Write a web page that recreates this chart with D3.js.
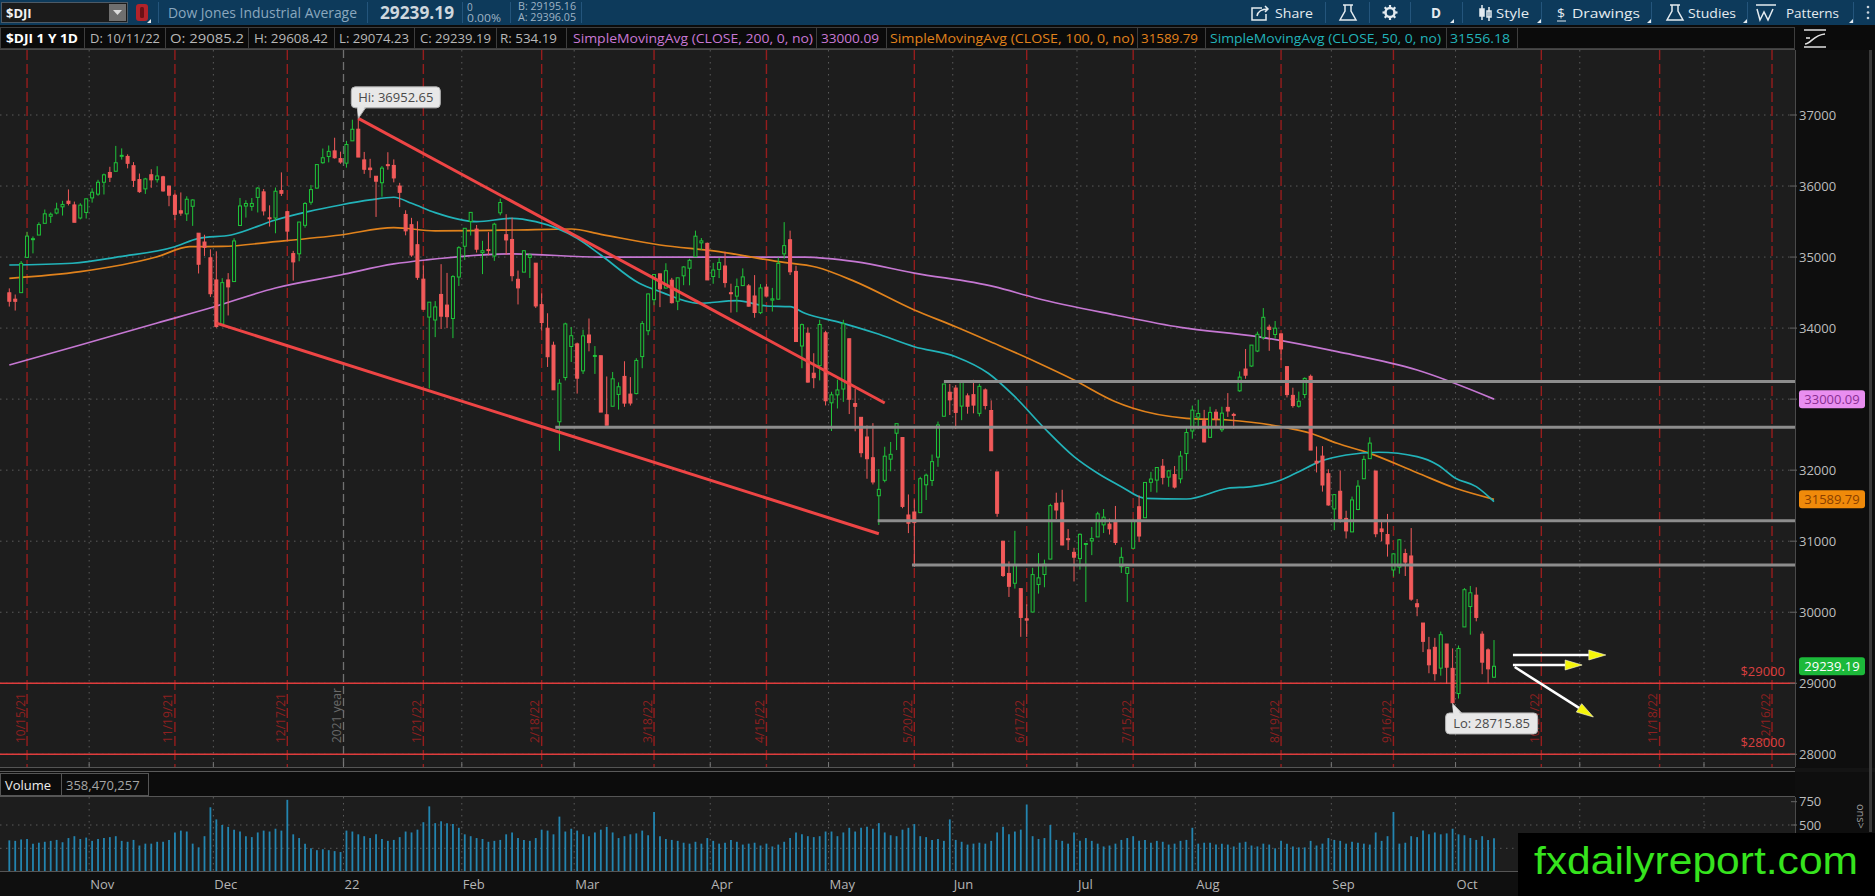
<!DOCTYPE html>
<html>
<head>
<meta charset="utf-8">
<title>$DJI 1 Y 1D</title>
<script src="https://cdn.jsdelivr.net/npm/d3@7"></script>
<style>
  body { margin: 0; background: #0e0e0e; overflow: hidden; }
  svg { display: block; }
  text { font-family: "Open Sans", "Noto Sans", sans-serif; }
</style>
</head>
<body>
<div id="chart-area"></div>
<script>
// Daily candles, trading-day index 0 = 10/12/21 ... 251 = 10/11/22
// [open, high, low, close]
const ohlc = [
  // Oct 21
  [34497,34559,34303,34378],[34407,34473,34247,34377],[34499,34944,34499,34912],[34996,35356,34996,35295],
  [35255,35290,35052,35259],[35310,35489,35310,35457],[35475,35669,35475,35609],[35575,35628,35480,35603],
  [35620,35765,35602,35677],[35707,35792,35584,35741],[35787,35952,35727,35756],[35734,35781,35490,35490],
  [35550,35759,35530,35731],[35628,35820,35542,35820],
  // Nov 21
  [35833,35968,35766,35913],[35886,36088,35863,36053],[36053,36175,35881,36158],[36191,36271,36056,36124],
  [36208,36565,36208,36328],[36428,36530,36372,36432],[36417,36446,36249,36320],[36286,36337,35987,36080],
  [36091,36176,35904,35921],[35960,36115,35889,36100],[36159,36236,35975,36087],[36089,36279,36048,36142],
  [36130,36144,35921,35931],[36000,36002,35716,35871],[35870,35894,35520,35602],[35652,35910,35581,35619],
  [35608,35856,35508,35814],[35715,35813,35439,35804],[35336,35336,34769,34899],[35212,35314,35016,35136],
  [34990,35109,34439,34484],
  // Dec 21
  [34678,35081,34006,34022],[34055,34703,34027,34640],[34678,34774,34178,34580],[34655,35265,34655,35227],
  [35445,35832,35445,35720],[35718,35800,35556,35754],[35713,35831,35652,35755],[35840,35985,35628,35971],
  [35918,35958,35585,35650],[35553,35728,35430,35544],[35550,35979,35335,35927],[35936,36192,35860,35898],
  [35639,35650,35227,35365],[35049,35087,34668,34932],[35046,35495,34941,35493],[35447,35775,35414,35754],
  [35772,36015,35736,35950],[35971,36304,35962,36302],[36328,36528,36314,36398],[36416,36571,36333,36488],
  [36495,36680,36386,36398],[36386,36484,36314,36338],
  // Jan 22
  [36322,36636,36259,36585],[36636,36934,36636,36799],[36800,36952.65,36408,36408],[36368,36480,36171,36236],
  [36253,36383,36115,36231],[36138,36138,35565,36068],[36046,36281,35850,36252],[36301,36476,36230,36290],
  [36290,36375,36052,36114],[36000,36045,35703,35912],[35600,35659,35306,35369],[35456,35552,35004,35029],
  [35174,35504,34680,34715],[34689,34882,34259,34265],[34155,34364,33150,34365],[34114,34380,33873,34298],
  [34474,34900,33987,34168],[34324,34777,33999,34161],[34135,34745,33859,34725],[34719,35153,34593,35132],
  // Feb 22
  [35152,35405,34960,35405],[35500,35631,35303,35629],[35394,35452,35063,35111],[35062,35229,34760,35089],
  [35105,35351,35026,35091],[35015,35483,34946,35463],[35623,35824,35588,35768],[35315,35603,35033,35241],
  [35248,35555,34659,34738],[34687,34810,34333,34566],[34788,35098,34788,35089],[34996,35052,34705,35028],
  [34914,34914,34284,34312],[34330,34489,33967,34079],[33998,34209,33453,33597],[33759,33809,33131,33131],
  [32681,33281,32272,33224],[33304,34076,33263,34059],[33741,34016,33523,33893],
  // Mar 22
  [33778,33796,33078,33295],[33398,33978,33354,33891],[33903,34135,33673,33795],[33614,33747,33355,33615],
  [33611,33611,32817,32818],[32780,33319,32632,32633],[32900,33382,32900,33286],[33066,33236,32853,33174],
  [33320,33533,32892,32944],[33071,33310,32910,32945],[33078,33576,33067,33545],[33599,34099,33435,34063],
  [33963,34486,33900,34481],[34400,34757,34322,34754],[34764,34764,34295,34553],[34564,34913,34557,34808],
  [34674,34707,34346,34358],[34378,34708,34253,34708],[34736,34872,34604,34861],[34843,34976,34602,34955],
  [35005,35372,35005,35294],[35200,35268,35100,35228],[35193,35204,34678,34678],
  // Apr 22
  [34726,34918,34624,34818],[34826,34990,34704,34922],[34874,35075,34571,34641],[34498,34625,34218,34497],
  [34450,34698,34224,34584],[34598,34841,34592,34721],[34594,34620,34303,34309],[34452,34746,34146,34220],
  [34217,34619,34197,34565],[34577,34621,34446,34451],[34394,34566,34233,34412],[34407,34994,34406,34911],
  [35045,35492,34978,35161],[35244,35372,34747,34793],[34798,34878,33811,33811],[33748,34064,33435,34049],
  [33928,34010,33233,33240],[33365,33646,33154,33302],[33471,34117,33263,34051],[33934,33962,32911,32977],
  // May 22
  [32948,33104,32551,33061],[33060,33275,32868,33129],[33142,34117,32961,34061],[33850,33850,32790,32998],
  [32938,33142,32547,32899],[32744,32744,32182,32246],[32467,32629,31879,32161],[32175,32662,31799,31834],
  [31640,32015,31228,31730],[31857,32330,31829,32197],[32155,32397,31984,32223],[32520,32654,32283,32655],
  [32459,32459,31464,31490],[31369,31658,31114,31253],[31411,31587,30636,31262],[31402,31907,31402,31880],
  [31794,31952,31580,31929],[31855,32220,31778,32120],[32183,32684,32047,32637],[32759,33213,32759,33213],
  [33097,33214,32777,32990],
  // Jun 22
  [33156,33198,32579,32813],[32902,33251,32704,33248],[33046,33081,32795,32900],[33063,33272,32800,32916],
  [32800,33216,32757,33180],[33130,33151,32854,32910],[32840,32983,32271,32273],[31975,31975,31344,31393],
  [31000,31000,30496,30517],[30546,30715,30215,30365],[30408,31146,30333,30669],[30332,30332,29654,29927],
  [29908,30112,29653,29889],[30003,30626,30003,30530],[30390,30833,30262,30484],[30531,30740,30351,30677],
  [30748,31527,30748,31501],[31534,31683,31311,31439],[31540,31724,30942,30947],[31035,31170,30876,31029],
  [30843,30907,30433,30775],
  // Jul 22
  [30755,31109,30599,31097],[30962,30962,30144,30968],[31004,31201,30804,31037],[31060,31414,31060,31385],
  [31230,31453,31115,31338],[31241,31317,31094,31174],[31284,31496,30948,30982],[30641,30914,30552,30773],
  [30546,30626,30143,30630],[30900,31316,30900,31289],[31485,31646,30988,31073],[31330,31827,31330,31827],
  [31829,31976,31695,31875],[31860,32037,31685,32037],[32056,32157,31800,31899],[31902,32004,31766,31990],
  [31938,32058,31742,31762],[31878,32269,31815,32198],[32234,32614,31990,32530],[32551,32910,32443,32845],
  // Aug 22
  [32746,32992,32578,32798],[32697,32849,32392,32397],[32462,32893,32457,32813],[32816,32858,32606,32727],
  [32569,32893,32537,32803],[32884,33085,32750,32833],[32785,32808,32583,32775],[33117,33390,33103,33310],
  [33424,33706,33287,33337],[33466,33762,33455,33761],[33677,33950,33662,33913],[33867,34282,33837,34152],
  [34014,34049,33680,33981],[33910,34100,33852,33999],[33919,33919,33549,33707],[33458,33458,33024,33064],
  [33053,33161,32880,32910],[32900,33106,32881,32970],[33065,33306,33013,33292],[33321,33346,32283,32283],
  [32126,32334,31968,32099],[32198,32339,31698,31791],[31950,32013,31500,31510],
  // Sep 22
  [31454,31664,31156,31656],[31703,31996,31263,31318],[31321,31429,31038,31145],[31131,31628,31130,31581],
  [31446,31859,31437,31775],[31879,32205,31879,32152],[32162,32463,32160,32381],[31988,31988,31056,31105],
  [31173,31300,30999,31135],[31094,31384,30783,30962],[30595,30830,30501,30822],[30635,31031,30542,31020],
  [30826,30893,30510,30706],[30792,31185,30161,30184],[30120,30186,29944,30077],[29848,29848,29439,29590],
  [29470,29653,29141,29260],[29506,29639,29035,29135],[29213,29728,29107,29684],[29553,29553,28994,29226],
  [29210,29491,28715.85,28726],
  // Oct 22
  [28855,29531,28785,29490],[29793,30340,29793,30317],[30080,30370,29684,30274],[30240,30351,29872,29927],
  [29691,29731,29128,29297],[29470,29491,28993,29203],[29085.2,29608.42,29074.23,29239.19]
]

// Daily volume, millions
const volumeM = [
  335,330,345,350,300,310,320,330,340,315,360,380,350,365,
  330,350,360,370,380,330,320,340,280,300,300,320,320,340,420,440,430,300,260,380,690,
  560,500,480,450,430,380,370,420,440,430,460,440,770,400,360,300,250,230,240,230,220,210,
  440,430,400,380,360,400,350,330,340,370,430,420,450,530,700,520,540,520,510,470,
  400,380,360,350,320,330,340,400,420,360,340,330,360,450,440,400,590,430,460,
  440,400,380,420,450,480,420,360,380,400,410,440,390,640,380,350,340,330,310,300,320,300,360,
  330,300,310,340,320,290,300,310,280,300,270,290,320,360,420,400,380,370,380,430,
  430,380,420,470,430,470,480,460,520,420,390,380,450,470,510,380,370,340,350,330,560,
  340,320,290,300,310,300,330,420,480,400,430,450,720,380,350,360,500,340,330,300,420,
  330,360,330,300,270,280,300,340,360,380,330,340,310,330,320,290,300,330,340,470,
  300,310,310,290,300,290,270,310,320,280,270,300,290,250,330,300,270,260,260,330,280,300,360,
  340,330,300,320,310,300,290,420,330,380,640,300,310,380,370,440,400,420,400,410,460,
  400,390,360,340,380,340,358.47
]
const lastVolume = 358470257
const lastDate = "10/11/22"

// Moving averages: [trading-day index, value]
const sma200 = [[0,33481],[12,33762],[25,34072],[34.5,34297],[45,34565],[56,34748],[65,34903],[70.5,34960],
  [85,35044],[100,35000],[120,35000],[134.5,35000],[143,34935],[153,34775],[166.5,34583],[173.5,34424],
  [187,34184],[198,34010],[211,33880],[224.5,33668],[238,33410],[251,33000.09]]
const sma100 = [[0,34701],[12,34794],[25,35005],[30.5,35146],[36,35150],[45,35217],[56,35311],[65,35414],
  [72,35370],[85,35381],[95,35395],[100,35320],[110,35170],[120,35076],[130,34935],[136.5,34856],
  [143,34654],[153,34255],[160,34020],[166.5,33786],[173.5,33527],[180,33270],[187,32964],[190,32871],
  [199,32730],[206,32706],[215,32612],[220,32519],[224.5,32378],[230,32237],[238,31964],[244.5,31745],
  [251,31589.79]]
const sma50 = [[0,34888],[10.7,34913],[18.7,35005],[28,35146],[32,35264],[37.5,35311],[45,35522],[50.5,35639],
  [56,35733],[61,35804],[65,35842],[68,35757],[72,35625],[79,35498],[85,35546],[89,35498],[96,35264],
  [100,35029],[106.5,34631],[110,34513],[116.5,34349],[123,34386],[128,34311],[132,34302],[134.5,34209],
  [140.5,34077],[146.5,33927],[153,33738],[160,33597],[165.5,33364],[170,33034],[175,32590],[180,32190],
  [184,31956],[188,31768],[192,31604],[199,31594],[206,31745],[210,31768],[215,31862],[218,31979],
  [221.5,32120],[226,32214],[231.5,32252],[238,32190],[241.5,32073],[244.5,31886],[248,31768],[251,31556.18]]

// Axis / calendar
const priceTicks = [28000,29000,30000,31000,32000,33000,34000,35000,36000,37000]
const volumeTicks = [250, 500]
const volumeLabels = [750, 500]
const monthStarts = [14,35,57,77,96,119,139,160,181,201,224,245,266,287]
const monthLabels = ["Nov","Dec","22","Feb","Mar","Apr","May","Jun","Jul","Aug","Sep","Oct","Nov","Dec"]
const expiryDays = [3,28,47,70,90,109,128,153,172,190,215,234,259,279,298]
const expiryLabels = ["10/15/21","11/19/21","12/17/21","1/21/22","2/18/22","3/18/22","4/15/22","5/20/22",
  "6/17/22","7/15/22","8/19/22","9/16/22","10/21/22","11/18/22","12/16/22"]
const yearBreak = 56.5

// Drawings
const levels = [33250, 32605, 31287, 30665]
const levelStarts = [158, 92.3, 146.8, 152.6]
const roundLevels = [29000, 28000]
const trendUpper = [[59, 36952.65], [148, 32946]]
const trendLower = [[35, 34070], [147, 31105]]
const arrows = [
  [[254.2, 29398], [269.9, 29398]],
  [[254.2, 29257], [265.9, 29257]],
  [[254.5, 29229], [267.8, 28525]]
]

const WIDTH = 1875, HEIGHT = 896
const PLOT = { LEFT: 0, RIGHT: 1795, TOP: 50, BOTTOM: 767 }
const VOL = { TOP: 797, BOTTOM: 871 }
const WATERMARK = { X: 1518, Y: 833 }
const BG = "#1d1d1d"

const x = d3.scaleLinear().domain([0, 251]).range([9.3, 1494])
const y = d3.scaleLinear().domain([28000, 37000]).range([754.3, 115])
const yVol = d3.scaleLinear().domain([0, 750]).range([871.6, 801.7])

const svg = d3.select("#chart-area").append("svg")
  .attr("width", WIDTH)
  .attr("height", HEIGHT)

svg.append("rect").attr("width", WIDTH).attr("height", HEIGHT).attr("fill", "#0e0e0e")
svg.append("rect").attr("x", PLOT.LEFT).attr("y", PLOT.TOP)
  .attr("width", PLOT.RIGHT - PLOT.LEFT).attr("height", PLOT.BOTTOM - PLOT.TOP).attr("fill", BG)
svg.append("rect").attr("x", 0).attr("y", VOL.TOP)
  .attr("width", PLOT.RIGHT).attr("height", VOL.BOTTOM - VOL.TOP).attr("fill", BG)

const defs = svg.append("defs")
defs.append("clipPath").attr("id", "plot-clip").append("rect")
  .attr("x", PLOT.LEFT).attr("y", PLOT.TOP)
  .attr("width", PLOT.RIGHT - PLOT.LEFT).attr("height", PLOT.BOTTOM - PLOT.TOP)
defs.append("clipPath").attr("id", "vol-clip").append("rect")
  .attr("x", 0).attr("y", VOL.TOP).attr("width", PLOT.RIGHT).attr("height", VOL.BOTTOM - VOL.TOP)

const g = svg.append("g").attr("clip-path", "url(#plot-clip)")

// Grid
g.selectAll(".hgrid").data(priceTicks).enter().append("line")
  .attr("x1", 0).attr("x2", PLOT.RIGHT - 4)
  .attr("y1", d => y(d)).attr("y2", d => y(d))
  .attr("stroke", "#5a5a5a").attr("stroke-dasharray", "1.5,4.5")
g.selectAll(".vgrid").data(monthStarts).enter().append("line")
  .attr("x1", d => x(d - 0.5)).attr("x2", d => x(d - 0.5))
  .attr("y1", PLOT.TOP).attr("y2", PLOT.BOTTOM)
  .attr("stroke", "#5a5a5a").attr("stroke-dasharray", "1.5,4.5")

// Option expiry lines
g.selectAll(".expiry").data(expiryDays).enter().append("line")
  .attr("x1", d => x(d)).attr("x2", d => x(d))
  .attr("y1", PLOT.TOP).attr("y2", PLOT.BOTTOM)
  .attr("stroke", "#961d1d").attr("stroke-width", 1.4).attr("stroke-dasharray", "10,4")
g.selectAll(".expiry-label").data(expiryDays).enter().append("text")
  .attr("transform", d => `translate(${x(d) - 2.5}, 743) rotate(-90)`)
  .attr("font-size", 12).attr("fill", "#8e2020")
  .text((d, i) => expiryLabels[i])

g.append("line")
  .attr("x1", x(yearBreak)).attr("x2", x(yearBreak))
  .attr("y1", PLOT.TOP).attr("y2", PLOT.BOTTOM)
  .attr("stroke", "#707070").attr("stroke-width", 1.3).attr("stroke-dasharray", "8,4")
g.append("text")
  .attr("transform", `translate(${x(yearBreak) - 2.5}, 743) rotate(-90)`)
  .attr("font-size", 12).attr("fill", "#6a6a6a")
  .text("2021 year")

// Round number levels
g.selectAll(".round").data(roundLevels).enter().append("line")
  .attr("x1", 0).attr("x2", PLOT.RIGHT)
  .attr("y1", d => y(d)).attr("y2", d => y(d))
  .attr("stroke", "#e03c3c").attr("stroke-width", 1.6)
g.selectAll(".round-label").data(roundLevels).enter().append("text")
  .attr("x", PLOT.RIGHT - 10).attr("y", d => y(d) - 7)
  .attr("text-anchor", "end").attr("font-size", 13).attr("fill", "#d84040")
  .text(d => "$" + d)

// Moving averages
const smaLine = d3.line().x(d => x(d[0])).y(d => y(d[1])).curve(d3.curveMonotoneX)
;[[sma200, "#c577d2"], [sma100, "#e0821c"], [sma50, "#22b3b9"]].forEach(([data, color]) => {
  g.append("path").datum(data)
    .attr("d", smaLine)
    .attr("fill", "none").attr("stroke", color).attr("stroke-width", 1.7)
})

// Candles
const candles = g.selectAll(".candle").data(ohlc).enter().append("g")
candles.append("line")
  .attr("x1", (d, i) => x(i)).attr("x2", (d, i) => x(i))
  .attr("y1", d => y(d[1])).attr("y2", d => y(d[2]))
  .attr("stroke", d => d[3] >= d[0] ? "#1fc43a" : "#f25a5a")
  .attr("stroke-width", 1)
candles.append("rect")
  .attr("x", (d, i) => x(i) - 1.5)
  .attr("y", d => y(Math.max(d[0], d[3])))
  .attr("width", 3)
  .attr("height", d => Math.max(1, Math.abs(y(d[0]) - y(d[3]))))
  .attr("fill", d => d[3] >= d[0] ? BG : "#f25a5a")
  .attr("stroke", d => d[3] >= d[0] ? "#1fc43a" : "#f25a5a")
  .attr("stroke-width", 1)

// Support / resistance drawings
g.selectAll(".level").data(levels).enter().append("line")
  .attr("x1", (d, i) => x(levelStarts[i])).attr("x2", PLOT.RIGHT)
  .attr("y1", d => y(d)).attr("y2", d => y(d))
  .attr("stroke", "#8d8d8d").attr("stroke-width", 3)

;[trendUpper, trendLower].forEach(t => {
  g.append("line")
    .attr("x1", x(t[0][0])).attr("y1", y(t[0][1]))
    .attr("x2", x(t[1][0])).attr("y2", y(t[1][1]))
    .attr("stroke", "#ee4545").attr("stroke-width", 3)
})

arrows.forEach(a => {
  const x1 = x(a[0][0]), y1 = y(a[0][1]), x2 = x(a[1][0]), y2 = y(a[1][1])
  const ang = Math.atan2(y2 - y1, x2 - x1)
  const len = 17, half = 5
  const bx = x2 - len * Math.cos(ang), by = y2 - len * Math.sin(ang)
  g.append("line").attr("x1", x1).attr("y1", y1).attr("x2", bx).attr("y2", by)
    .attr("stroke", "#ffffff").attr("stroke-width", 2.5)
  g.append("path")
    .attr("d", `M${x2},${y2}L${bx + half * Math.sin(ang)},${by - half * Math.cos(ang)}L${bx - half * Math.sin(ang)},${by + half * Math.cos(ang)}Z`)
    .attr("fill", "#f5f50a").attr("stroke", "#fffbe0").attr("stroke-width", 0.6)
})

// Hi / Lo bubbles
const hiIdx = d3.maxIndex(ohlc, d => d[1])
const loIdx = d3.minIndex(ohlc, d => d[2])
function bubble(idx, price, label, above) {
  const px = x(idx), py = y(price)
  const w = above ? 89 : 92, h = 21
  const bx = px - 7
  const by = above ? py - 31.5 : py + 9.5
  const tip = above
    ? `M${bx + 6},${by + h - 1}L${bx + 15},${by + h - 1}L${px},${py}Z`
    : `M${bx + 8},${by + 1}L${bx + 17},${by + 1}L${px},${py}Z`
  svg.append("path").attr("d", tip).attr("fill", "#e6e6e6").attr("stroke", "#b0b0b0")
  svg.append("rect").attr("x", bx).attr("y", by).attr("width", w).attr("height", h)
    .attr("rx", 4).attr("fill", "#e8e8e8").attr("stroke", "#b5b5b5")
  svg.append("path").attr("d", tip).attr("fill", "#e6e6e6")
    .attr("transform", above ? "translate(0,-2)" : "translate(0,2)")
  svg.append("text").attr("x", bx + w / 2).attr("y", by + 15.5)
    .attr("text-anchor", "middle").attr("font-size", 13).attr("fill", "#4a4a4a")
    .text(label)
}
bubble(hiIdx, ohlc[hiIdx][1], "Hi: " + d3.format(".2f")(ohlc[hiIdx][1]), true)
bubble(loIdx, ohlc[loIdx][2], "Lo: " + d3.format(".2f")(ohlc[loIdx][2]), false)

// Bottom tick strip of the price panel
svg.selectAll(".ptick").data(monthStarts).enter().append("line")
  .attr("x1", d => x(d - 0.5)).attr("x2", d => x(d - 0.5))
  .attr("y1", PLOT.BOTTOM - 5).attr("y2", PLOT.BOTTOM)
  .attr("stroke", "#777")
svg.append("line").attr("x1", 0).attr("x2", PLOT.RIGHT).attr("y1", PLOT.BOTTOM + 0.5).attr("y2", PLOT.BOTTOM + 0.5)
  .attr("stroke", "#555")

// Right price axis (labels hidden where a value badge sits on top)
const badgeValues = [sma200[sma200.length - 1][1], sma100[sma100.length - 1][1], ohlc[ohlc.length - 1][3]]
const freeTicks = priceTicks.filter(p => badgeValues.every(b => Math.abs(y(p) - y(b)) > 16))
svg.append("line").attr("x1", PLOT.RIGHT + 0.5).attr("x2", PLOT.RIGHT + 0.5)
  .attr("y1", PLOT.TOP).attr("y2", PLOT.BOTTOM).attr("stroke", "#4a4a4a")
const axisG = svg.append("g")
axisG.selectAll("line").data(priceTicks).enter().append("line")
  .attr("x1", PLOT.RIGHT - 5).attr("x2", PLOT.RIGHT + 2)
  .attr("y1", d => y(d)).attr("y2", d => y(d)).attr("stroke", "#666")
axisG.selectAll("text").data(freeTicks).enter().append("text")
  .attr("x", PLOT.RIGHT + 4).attr("y", d => y(d) + 4.5)
  .attr("font-size", 13).attr("fill", "#bdbdbd")
  .text(d => d)

function badge(value, bg, fg) {
  const cy = y(value)
  svg.append("rect").attr("x", PLOT.RIGHT + 4).attr("y", cy - 9).attr("width", 66).attr("height", 18)
    .attr("rx", 3).attr("fill", bg)
  svg.append("text").attr("x", PLOT.RIGHT + 37).attr("y", cy + 4.5)
    .attr("text-anchor", "middle").attr("font-size", 13).attr("fill", fg)
    .text(d3.format(".2f")(value))
}
badge(badgeValues[0], "#e98ef0", "#8a2f93")
badge(badgeValues[1], "#f08a0a", "#8a3f00")
badge(badgeValues[2], "#1cb93a", "#ffffff")

// Volume panel
svg.append("rect").attr("x", 0).attr("y", PLOT.BOTTOM + 1).attr("width", WIDTH).attr("height", 4).attr("fill", "#141414")
svg.append("line").attr("x1", 0).attr("x2", PLOT.RIGHT).attr("y1", 771.5).attr("y2", 771.5).attr("stroke", "#5a5a5a")
svg.append("rect").attr("x", 0).attr("y", 772).attr("width", PLOT.RIGHT).attr("height", 25).attr("fill", "#0c0c0c")
svg.append("rect").attr("x", 0.5).attr("y", 773.5).attr("width", 61).attr("height", 22)
  .attr("fill", "#0c0c0c").attr("stroke", "#555")
svg.append("rect").attr("x", 61.5).attr("y", 773.5).attr("width", 87).attr("height", 22)
  .attr("fill", "none").attr("stroke", "#555")
svg.append("text").attr("x", 5).attr("y", 789.5).attr("font-size", 13).attr("fill", "#ededed").text("Volume")
svg.append("text").attr("x", 66).attr("y", 789.5).attr("font-size", 13).attr("fill", "#a5a5a5")
  .text(d3.format(",")(lastVolume))
svg.append("line").attr("x1", 0).attr("x2", PLOT.RIGHT).attr("y1", VOL.TOP - 0.5).attr("y2", VOL.TOP - 0.5).attr("stroke", "#555")

const vg = svg.append("g").attr("clip-path", "url(#vol-clip)")
vg.selectAll(".vhgrid").data(volumeTicks).enter().append("line")
  .attr("x1", 0).attr("x2", PLOT.RIGHT).attr("y1", d => yVol(d)).attr("y2", d => yVol(d))
  .attr("stroke", "#5a5a5a").attr("stroke-dasharray", "1.5,4.5")
vg.selectAll(".vvgrid").data(monthStarts).enter().append("line")
  .attr("x1", d => x(d - 0.5)).attr("x2", d => x(d - 0.5))
  .attr("y1", VOL.TOP).attr("y2", VOL.BOTTOM)
  .attr("stroke", "#5a5a5a").attr("stroke-dasharray", "1.5,4.5")
vg.selectAll(".vbar").data(volumeM).enter().append("line")
  .attr("x1", (d, i) => x(i)).attr("x2", (d, i) => x(i))
  .attr("y1", yVol(0)).attr("y2", d => yVol(d))
  .attr("stroke", "#2385b0").attr("stroke-width", 1.8)

svg.append("line").attr("x1", PLOT.RIGHT + 0.5).attr("x2", PLOT.RIGHT + 0.5)
  .attr("y1", VOL.TOP).attr("y2", VOL.BOTTOM).attr("stroke", "#4a4a4a")
svg.selectAll(".vlab").data(volumeLabels).enter().append("text")
  .attr("x", PLOT.RIGHT + 4).attr("y", d => yVol(d) + 4.5)
  .attr("font-size", 13).attr("fill", "#bdbdbd").text(d => d)
svg.selectAll(".vtick").data(volumeLabels).enter().append("line")
  .attr("x1", PLOT.RIGHT - 4).attr("x2", PLOT.RIGHT + 2)
  .attr("y1", d => yVol(d)).attr("y2", d => yVol(d)).attr("stroke", "#666")
svg.append("text")
  .attr("transform", `translate(${1857}, ${804}) rotate(90)`)
  .attr("font-size", 11).attr("fill", "#9a9a9a").text("ons>")
svg.append("rect").attr("x", 1869).attr("y", PLOT.TOP).attr("width", 3).attr("height", 782).attr("fill", "#3a3a3a")

// Date axis (labels under the watermark box are not visible)
svg.append("rect").attr("x", 0).attr("y", VOL.BOTTOM).attr("width", WIDTH).attr("height", HEIGHT - VOL.BOTTOM).attr("fill", "#0f0f0f")
svg.append("line").attr("x1", 0).attr("x2", PLOT.RIGHT).attr("y1", VOL.BOTTOM + 0.5).attr("y2", VOL.BOTTOM + 0.5).attr("stroke", "#555")
const visibleMonths = monthStarts.filter(k => x(k - 0.5) + 30 < WATERMARK.X)
svg.selectAll(".mlab").data(visibleMonths).enter().append("text")
  .attr("x", d => x(d - 0.5) + 1).attr("y", 889)
  .attr("font-size", 13).attr("fill", "#b5b5b5")
  .text((d, i) => monthLabels[i])

// Header: toolbar
svg.append("rect").attr("width", WIDTH).attr("height", 25).attr("fill", "#0d3a5b")
svg.append("rect").attr("x", 1.5).attr("y", 2.5).attr("width", 126).attr("height", 20)
  .attr("fill", "#1b1b1b").attr("stroke", "#4d5a66")
svg.append("text").attr("x", 6).attr("y", 17.5).attr("font-size", 13).attr("font-weight", "bold")
  .attr("fill", "#f2f2f2").text("$DJI")
svg.append("rect").attr("x", 109).attr("y", 4).attr("width", 17).attr("height", 17).attr("fill", "#6f6f6f")
svg.append("path").attr("d", "M113,10L122,10L117.5,15Z").attr("fill", "#dcdcdc")
svg.append("rect").attr("x", 136).attr("y", 4).attr("width", 12).attr("height", 17).attr("rx", 3)
  .attr("fill", "#b3232a")
svg.append("rect").attr("x", 140).attr("y", 7).attr("width", 4).attr("height", 11).attr("rx", 1.5)
  .attr("fill", "#6a1115")
svg.append("path").attr("d", "M147,23L151,23L151,19Z").attr("fill", "#e8e8e8")

const sepL = [158, 367, 462, 510, 581, 1325, 1369, 1410, 1462, 1541, 1651, 1747, 1853]
svg.selectAll(".tsep").data(sepL).enter().append("line")
  .attr("x1", d => d + 0.5).attr("x2", d => d + 0.5).attr("y1", 2).attr("y2", 23)
  .attr("stroke", "#24557c")

svg.append("text").attr("x", 168).attr("y", 17.5).attr("font-size", 14).attr("fill", "#8aa7be")
  .attr("textLength", 189).attr("lengthAdjust", "spacingAndGlyphs")
  .text("Dow Jones Industrial Average")
svg.append("text").attr("x", 380).attr("y", 18.5).attr("font-size", 17).attr("font-weight", "bold")
  .attr("fill", "#cfd7de").attr("textLength", 74).attr("lengthAdjust", "spacingAndGlyphs")
  .text(d3.format(".2f")(ohlc[ohlc.length - 1][3]))
svg.append("text").attr("x", 467).attr("y", 10.5).attr("font-size", 10).attr("fill", "#9fb3c4").text("0")
svg.append("text").attr("x", 467).attr("y", 21.5).attr("font-size", 10).attr("fill", "#9fb3c4")
  .attr("textLength", 34).attr("lengthAdjust", "spacingAndGlyphs").text("0.00%")
svg.append("text").attr("x", 518).attr("y", 10).attr("font-size", 10).attr("fill", "#9fb3c4")
  .attr("textLength", 58).attr("lengthAdjust", "spacingAndGlyphs").text("B: 29195.16")
svg.append("text").attr("x", 518).attr("y", 21).attr("font-size", 10).attr("fill", "#9fb3c4")
  .attr("textLength", 58).attr("lengthAdjust", "spacingAndGlyphs").text("A: 29396.05")

const icon = svg.append("g").attr("stroke", "#e4ebf0").attr("fill", "none").attr("stroke-width", 1.5)
// share
icon.append("path").attr("d", "M1262,8L1252,8L1252,20L1266,20L1266,14")
icon.append("path").attr("d", "M1257,16C1258,11 1262,9 1268,9M1265,6L1268,9L1265,12")
// flask
icon.append("path").attr("d", "M1345,5L1345,11L1340,20L1356,20L1351,11L1351,5M1343,5L1353,5")
// gear
icon.append("circle").attr("cx", 1390).attr("cy", 12.5).attr("r", 4.5).attr("stroke-width", 2.5)
d3.range(8).forEach(j => {
  const a = j * Math.PI / 4
  icon.append("line")
    .attr("x1", 1390 + 5 * Math.cos(a)).attr("y1", 12.5 + 5 * Math.sin(a))
    .attr("x2", 1390 + 7.5 * Math.cos(a)).attr("y2", 12.5 + 7.5 * Math.sin(a)).attr("stroke-width", 2.2)
})
// style
icon.append("path").attr("d", "M1482,5L1482,20M1489,7L1489,21")
icon.append("rect").attr("x", 1480).attr("y", 9).attr("width", 4).attr("height", 7).attr("fill", "#e4ebf0")
icon.append("rect").attr("x", 1487).attr("y", 11).attr("width", 4).attr("height", 6)
// studies flask
icon.append("path").attr("d", "M1672,5L1672,11L1667,20L1683,20L1678,11L1678,5M1670,5L1680,5")
// patterns
icon.append("path").attr("d", "M1756,5L1776,5M1757,9L1760,20L1764,12L1768,20L1773,9")
// overflow dots
svg.selectAll(".dot").data([7, 12.5, 18]).enter().append("circle")
  .attr("cx", 1868).attr("cy", d => d).attr("r", 1.3).attr("fill", "#c9d3db")

const tbText = [["Share", 1275, 38], ["D", 1431, 10], ["Style", 1496, 33], ["$", 1557, 8],
  ["Drawings", 1572, 68], ["Studies", 1688, 48], ["Patterns", 1786, 53]]
tbText.forEach(([t, tx, tw]) => {
  svg.append("text").attr("x", tx).attr("y", 17.5).attr("font-size", 13.5)
    .attr("font-weight", t === "D" ? "bold" : "normal")
    .attr("fill", "#e4ebf0").attr("textLength", tw).attr("lengthAdjust", "spacingAndGlyphs")
    .text(t)
})
svg.append("line").attr("x1", 1557).attr("x2", 1566).attr("y1", 21).attr("y2", 21).attr("stroke", "#e4ebf0")
svg.selectAll(".drop").data([1450, 1537, 1647, 1743, 1849]).enter().append("path")
  .attr("d", d => `M${d},23L${d + 4},23L${d + 4},19Z`).attr("fill", "#e4ebf0")

// Header: info row
svg.append("rect").attr("x", 0).attr("y", 25).attr("width", WIDTH).attr("height", 25).attr("fill", "#0b0b0b")
svg.append("rect").attr("x", 0.5).attr("y", 27.5).attr("width", PLOT.RIGHT - 1).attr("height", 21)
  .attr("fill", "none").attr("stroke", "#3e3e3e")
const last = ohlc[ohlc.length - 1]
const smaLabel = n => `SimpleMovingAvg (CLOSE, ${n}, 0, no)`
const infoCells = [
  ["$DJI 1 Y 1D", 0, 84, 6, 72, "#ffffff", true],
  ["D: " + lastDate, 84, 165, 90, 70, "#b8b8b8"],
  ["O: " + last[0], 165, 248, 170, 74, "#b8b8b8"],
  ["H: " + last[1], 248, 334, 254, 74, "#b8b8b8"],
  ["L: " + last[2], 334, 414, 339, 70, "#b8b8b8"],
  ["C: " + last[3], 414, 496, 420, 71, "#b8b8b8"],
  ["R: " + d3.format(".2f")(last[1] - last[2]), 496, 566, 500, 57, "#b8b8b8"],
  [smaLabel(200), 566, 816, 573, 240, "#c878d4"],
  [d3.format(".2f")(sma200[sma200.length - 1][1]), 816, 886, 821, 58, "#c878d4"],
  [smaLabel(100), 886, 1137, 890, 244, "#e0821c"],
  [d3.format(".2f")(sma100[sma100.length - 1][1]), 1137, 1205, 1141, 57, "#e0821c"],
  [smaLabel(50), 1205, 1446, 1210, 231, "#22b3b9"],
  [d3.format(".2f")(sma50[sma50.length - 1][1]), 1446, 1517, 1450, 60, "#22b3b9"]
]
infoCells.forEach(([t, x0, x1, tx, tw, color, bold]) => {
  svg.append("rect").attr("x", x0 + 0.5).attr("y", 27.5).attr("width", x1 - x0).attr("height", 21)
    .attr("fill", "none").attr("stroke", "#3e3e3e")
  svg.append("text").attr("x", tx).attr("y", 42.5).attr("font-size", 13)
    .attr("font-weight", bold ? "bold" : "normal").attr("fill", color)
    .attr("textLength", tw).attr("lengthAdjust", "spacingAndGlyphs")
    .text(t)
})
svg.append("line").attr("x1", 0).attr("x2", PLOT.RIGHT).attr("y1", 49.5).attr("y2", 49.5).attr("stroke", "#4a4a4a")
const ic = svg.append("g").attr("stroke", "#e0e0e0").attr("fill", "none").attr("stroke-width", 1.6)
ic.append("path").attr("d", "M1804,30L1826,30M1804,47L1826,47")
ic.append("path").attr("d", "M1805,44C1811,44 1813,35 1825,34")
ic.append("path").attr("d", "M1806,38L1810,38")

// Watermark
svg.append("rect").attr("x", WATERMARK.X).attr("y", WATERMARK.Y)
  .attr("width", WIDTH - WATERMARK.X).attr("height", HEIGHT - WATERMARK.Y).attr("fill", "#000000")
svg.append("text").attr("x", 1534).attr("y", 874)
  .style("font-family", "'Liberation Sans', Arial, sans-serif")
  .attr("font-size", 38).attr("fill", "#36e41e")
  .attr("textLength", 324).attr("lengthAdjust", "spacingAndGlyphs")
  .text("fxdailyreport.com")
</script>
</body>
</html>
